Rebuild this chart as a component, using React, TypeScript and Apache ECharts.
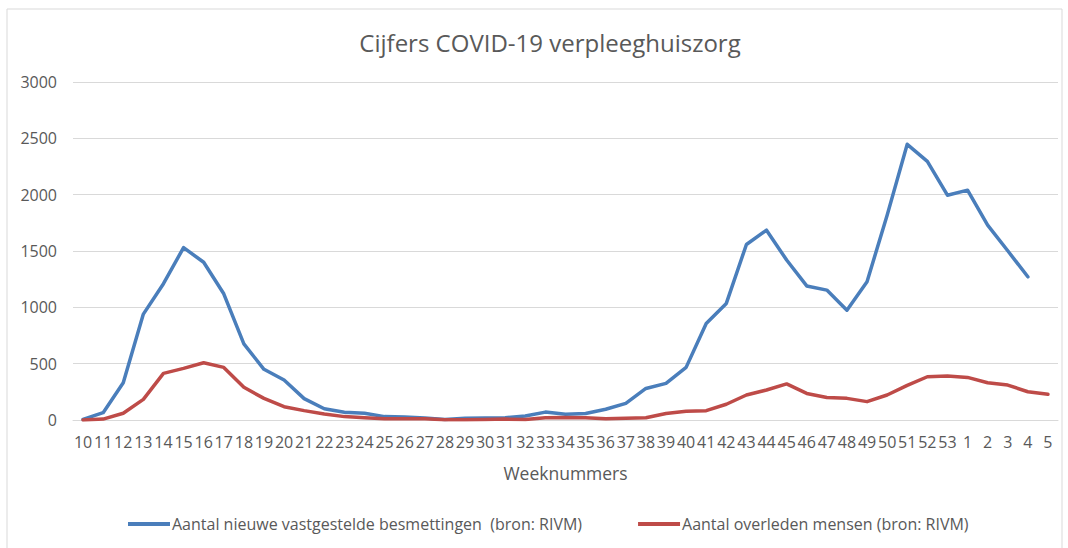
import React, { useEffect, useRef } from "react";
import * as echarts from "echarts";

const weeks: string[] = [
  "10", "11", "12", "13", "14", "15", "16", "17", "18", "19", "20", "21", "22", "23", "24", "25",
  "26", "27", "28", "29", "30", "31", "32", "33", "34", "35", "36", "37", "38", "39", "40", "41",
  "42", "43", "44", "45", "46", "47", "48", "49", "50", "51", "52", "53", "1", "2", "3", "4", "5",
];

const besmettingen: (number | null)[] = [
  5, 65, 330, 940, 1210, 1530, 1400, 1120, 675, 450, 355, 190, 100, 68, 60, 30,
  27, 18, 5, 15, 18, 20, 35, 70, 52, 58, 95, 148, 280, 325, 467, 857,
  1035, 1558, 1685, 1420, 1190, 1153, 975, 1227, 1818, 2447, 2296, 1995, 2040, 1730, 1502, 1271, null,
];

const overleden: number[] = [
  0, 8, 60, 183, 414, 458, 508, 467, 290, 192, 118, 83, 53, 30, 20, 12,
  12, 10, 3, 3, 5, 8, 5, 20, 22, 20, 12, 15, 20, 58, 77, 83,
  140, 222, 266, 320, 236, 200, 192, 163, 222, 307, 384, 390, 378, 331, 310, 251, 228,
];

const yTicks = { min: 0, max: 3000, interval: 500 };

const titleText = "Cijfers COVID-19 verpleeghuiszorg";
const xAxisName = "Weeknummers";
const seriesNames = [
  "Aantal nieuwe vastgestelde besmettingen  (bron: RIVM)",
  "Aantal overleden mensen (bron: RIVM)",
];

const FONT = "'Open Sans', 'Noto Sans', sans-serif";
const TEXT_COLOR = "#595959";

export default function App() {
  const ref = useRef<HTMLDivElement>(null);

  useEffect(() => {
    if (!ref.current) return;
    const chart = echarts.init(ref.current, undefined, { renderer: "svg" });
    chart.setOption({
      animation: false,
      backgroundColor: "#ffffff",
      textStyle: { fontFamily: FONT },
      title: {
        text: titleText,
        left: 545,
        textAlign: "center",
        top: 25,
        textStyle: { fontFamily: FONT, fontSize: 24, fontWeight: "normal", color: TEXT_COLOR },
      },
      graphic: [
        {
          type: "rect",
          shape: { x: 7, y: 9, width: 1055, height: 545 },
          style: { fill: "none", stroke: "#d9d9d9", lineWidth: 1 },
          silent: true,
          z: -1,
        },
      ],
      legend: {
        left: 123,
        top: 511,
        icon: "rect",
        itemWidth: 42,
        itemHeight: 4,
        itemGap: 56,
        textStyle: { fontFamily: FONT, fontSize: 16, color: TEXT_COLOR, padding: [0, 0, 0, -3] },
        data: seriesNames,
      },
      grid: { left: 73, right: 10, top: 82, bottom: 128, containLabel: false },
      xAxis: {
        type: "category",
        data: weeks,
        boundaryGap: true,
        name: xAxisName,
        nameLocation: "middle",
        nameGap: 44,
        nameTextStyle: { fontFamily: FONT, fontSize: 17.5, color: TEXT_COLOR },
        axisLine: { show: true, lineStyle: { color: "#d9d9d9", width: 1 } },
        axisTick: { show: false },
        axisLabel: {
          interval: 0,
          margin: 14,
          fontFamily: FONT,
          fontSize: 16,
          color: TEXT_COLOR,
        },
      },
      yAxis: {
        type: "value",
        min: yTicks.min,
        max: yTicks.max,
        interval: yTicks.interval,
        axisLine: { show: false },
        axisTick: { show: false },
        axisLabel: {
          margin: 16,
          fontFamily: FONT,
          fontSize: 16,
          color: TEXT_COLOR,
          formatter: (v: number) => String(v),
        },
        splitLine: { lineStyle: { color: "#d9d9d9", width: 1 } },
      },
      series: [
        {
          name: seriesNames[0],
          type: "line",
          data: besmettingen,
          symbol: "none",
          lineStyle: { color: "#4a7ebb", width: 3.5, cap: "round", join: "round" },
          itemStyle: { color: "#4a7ebb" },
        },
        {
          name: seriesNames[1],
          type: "line",
          data: overleden,
          symbol: "none",
          lineStyle: { color: "#be4b48", width: 3.5, cap: "round", join: "round" },
          itemStyle: { color: "#be4b48" },
        },
      ],
    });
    return () => chart.dispose();
  }, []);

  return (
    <div
      ref={ref}
      style={{ position: "fixed", left: 0, top: 0, width: 1068, height: 548, background: "#fff" }}
    />
  );
}
